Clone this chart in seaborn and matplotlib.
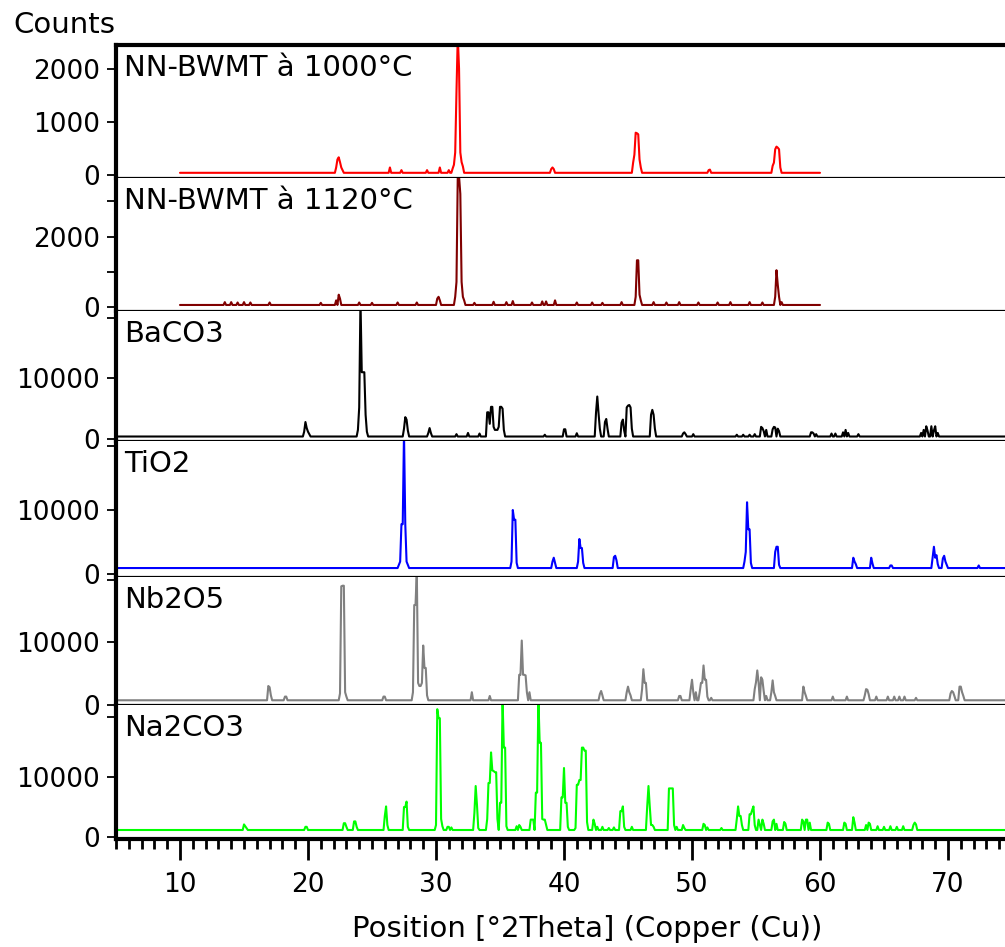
import numpy as np
import pandas as pd
import matplotlib
matplotlib.use("Agg")
import matplotlib.pyplot as plt
from matplotlib.ticker import MultipleLocator
import seaborn as sns

# ---------------- data ----------------
names = ["NN-BWMT à 1000°C", "NN-BWMT à 1120°C", "BaCO3", "TiO2", "Nb2O5", "Na2CO3"]
colors = ["#ff0000", "#800000", "#000000", "#0000ff", "#808080", "#00ff00"]
scan_start = [10.0, 10.0, 5.0, 5.0, 5.0, 5.0]
scan_stop = [60.0, 60.0, 75.0, 75.0, 75.0, 75.0]
baseline = [50, 70, 410, 1000, 710, 1170]

pos_1000 = [22.2, 22.3, 22.4, 22.5, 22.6, 22.7, 26.4, 27.3, 29.3, 30.3, 31.0, 31.3,
            31.4, 31.5, 31.6, 31.7, 31.8, 31.9, 32.0, 32.1, 39.0, 39.1, 39.2,
            45.4, 45.5, 45.6, 45.7, 45.8, 45.9, 46.0, 51.3, 51.4,
            56.3, 56.4, 56.5, 56.6, 56.7, 56.8, 56.9]
cnt_1000 = [150, 300, 340, 250, 150, 100, 150, 100, 100, 150, 100, 130,
            200, 430, 1570, 2600, 2000, 430, 250, 170, 120, 150, 120,
            240, 390, 800, 790, 770, 300, 150, 100, 110,
            180, 240, 490, 540, 520, 490, 150]

pos_1120 = [13.5, 14.0, 14.5, 15.0, 15.5, 17.0, 21.0, 22.2, 22.4, 22.5, 24.0, 25.0,
            27.0, 28.5, 30.1, 30.2, 30.3, 31.5, 31.6, 31.7, 31.8, 31.9, 32.0, 32.1,
            32.2, 33.0, 34.5, 35.5, 36.0, 37.5, 38.3, 38.6, 39.3, 41.0, 42.2, 43.0,
            44.5, 45.6, 45.7, 45.8, 45.9, 46.0, 47.0, 48.0, 49.0, 50.5, 52.0, 53.0,
            54.5, 55.5, 56.5, 56.6, 56.7, 56.8, 57.0]
cnt_1120 = [150, 150, 140, 150, 140, 140, 130, 200, 360, 250, 140, 130,
            140, 140, 250, 300, 200, 300, 720, 3700, 3700, 3200, 720, 300,
            200, 130, 160, 150, 180, 140, 170, 170, 200, 140, 140, 130,
            150, 300, 1330, 1330, 360, 200, 150, 140, 150, 140, 140, 150,
            150, 140, 300, 1050, 640, 300, 150]

pos_baco3 = [19.7, 19.8, 19.9, 20.0, 20.1, 23.9, 24.0, 24.1, 24.2, 24.3, 24.4, 24.5,
             24.6, 27.5, 27.6, 27.7, 27.8, 29.4, 29.5, 29.6, 31.6, 32.5, 33.4,
             34.0, 34.1, 34.2, 34.3, 34.4, 34.5, 34.6, 34.7, 34.8, 34.9, 35.0,
             35.1, 35.2, 35.3, 38.5, 40.0, 40.1, 41.0, 42.5, 42.6, 42.7, 42.8,
             43.2, 43.3, 43.4, 44.5, 44.6, 44.7, 44.9, 45.0, 45.1, 45.2, 45.3,
             46.8, 46.9, 47.0, 47.1, 49.3, 49.4, 49.5, 50.1, 53.5, 54.0, 54.5,
             54.9, 55.4, 55.5, 55.6, 55.8, 56.3, 56.4, 56.5, 56.7, 56.8, 59.3,
             59.4, 59.5, 59.7, 60.9, 61.2, 61.8, 62.0, 62.2, 63.0, 67.9, 68.1,
             68.3, 68.4, 68.7, 68.9, 69.0, 69.2]
cnt_baco3 = [1200, 2800, 1800, 1200, 800, 1500, 5200, 23000, 11000, 11000, 11000, 4000,
             1200, 1700, 3600, 3200, 1400, 1000, 1800, 1000, 800, 1000, 900,
             4400, 4400, 2500, 5300, 5300, 2000, 1500, 1500, 1500, 2000, 5300,
             5300, 5000, 1500, 700, 1600, 1600, 950, 4300, 7000, 4200, 1700,
             2800, 3300, 1700, 2700, 3200, 1400, 5200, 5500, 5600, 5200, 1700,
             4000, 4800, 4000, 1700, 900, 1100, 800, 800, 700, 700, 700,
             800, 2000, 1800, 1300, 1500, 1600, 2000, 1900, 1700, 1300, 1100,
             1100, 900, 800, 900, 900, 1100, 1500, 1000, 800, 1000, 1500,
             2100, 1400, 2100, 1400, 2100, 1000]

pos_tio2 = [27.1, 27.2, 27.3, 27.4, 27.5, 27.6, 27.7, 27.8, 35.9, 36.0, 36.1, 36.2,
            36.3, 39.1, 39.2, 39.3, 41.1, 41.2, 41.3, 41.4, 41.5, 43.9, 44.0, 44.1,
            54.1, 54.2, 54.3, 54.4, 54.5, 54.6, 56.5, 56.6, 56.7, 56.8, 62.6, 62.7,
            62.8, 64.0, 64.1, 65.5, 65.6, 68.8, 68.9, 69.0, 69.1, 69.2, 69.6, 69.7,
            69.8, 69.9, 72.4]
cnt_tio2 = [1500, 2000, 7800, 7800, 22000, 7800, 2000, 1500, 2000, 10000, 8500, 8500,
            1800, 2000, 2600, 1800, 2000, 5500, 4100, 4100, 1800, 2700, 2900, 2200,
            2000, 3500, 11200, 7000, 7000, 1800, 3500, 4300, 4300, 1500, 2600, 2000,
            1600, 2600, 1700, 1400, 1400, 2600, 4300, 2600, 3000, 1600, 2500, 2900,
            2000, 1500, 1400]

pos_nb2o5 = [16.9, 17.0, 17.1, 18.2, 18.3, 22.5, 22.6, 22.7, 22.8, 22.9, 23.0,
             25.9, 26.0, 28.2, 28.3, 28.4, 28.5, 28.6, 28.7, 28.8, 28.9, 29.0,
             29.1, 29.2, 29.3, 32.8, 34.2, 36.5, 36.6, 36.7, 36.8, 36.9, 37.0,
             37.1, 37.3, 42.8, 42.9, 43.0, 44.9, 45.0, 45.1, 45.2, 46.1, 46.2,
             46.3, 46.4, 49.0, 49.1, 49.9, 50.0, 50.1, 50.3, 50.6, 50.7, 50.8,
             50.9, 51.0, 51.1, 51.2, 51.5, 54.9, 55.0, 55.1, 55.2, 55.4, 55.5,
             55.6, 55.8, 56.2, 56.3, 56.4, 56.5, 58.7, 58.8, 58.9, 61.0, 62.1,
             63.5, 63.6, 63.7, 63.8, 64.4, 65.3, 65.8, 66.2, 66.6, 67.5, 70.2,
             70.3, 70.4, 70.5, 70.9, 71.0, 71.1, 71.2]
cnt_nb2o5 = [3000, 2800, 1500, 1300, 1300, 1800, 19000, 19100, 19100, 2000, 1300,
             1300, 1300, 2000, 16000, 16000, 21500, 3500, 3000, 3000, 3500, 9500,
             5900, 5900, 1500, 2000, 1400, 4800, 4800, 10300, 4800, 4800, 4700,
             2000, 2000, 1700, 2200, 1500, 2000, 2900, 2000, 1500, 2500, 5700,
             3500, 3500, 1400, 1400, 2500, 4000, 2000, 2000, 2000, 3500, 3500,
             6300, 4000, 4000, 1300, 1100, 2500, 3600, 5500, 3600, 4400, 4000,
             2200, 1400, 2000, 3900, 2000, 1400, 2900, 2000, 1400, 1300, 1300,
             1500, 2500, 2400, 1700, 1300, 1300, 1300, 1300, 1300, 1100, 1800,
             2200, 2000, 1400, 2900, 2900, 2000, 1400]

pos_na2co3 = [15.0, 15.1, 15.2, 19.8, 19.9, 22.8, 22.9, 23.0, 23.6, 23.7, 23.8,
              26.0, 26.1, 26.2, 27.5, 27.6, 27.7, 27.8, 30.0, 30.1, 30.2, 30.3,
              30.4, 30.5, 30.9, 31.0, 31.2, 33.0, 33.1, 33.2, 33.3, 34.0, 34.1,
              34.2, 34.3, 34.4, 34.5, 34.6, 34.7, 34.8, 35.0, 35.1, 35.2, 35.3,
              35.4, 35.5, 36.3, 36.5, 36.6, 37.4, 37.5, 37.6, 37.8, 37.9, 38.0,
              38.1, 38.2, 38.3, 38.4, 38.5, 38.6, 39.8, 39.9, 40.0, 40.1, 40.2,
              40.3, 40.9, 41.0, 41.1, 41.2, 41.3, 41.4, 41.5, 41.6, 41.7, 41.8,
              42.3, 42.4, 42.6, 43.0, 43.5, 43.9, 44.4, 44.5, 44.6, 44.7, 45.3,
              46.5, 46.6, 46.7, 46.8, 46.9, 47.0, 48.2, 48.3, 48.4, 48.5, 48.6,
              48.8, 49.3, 49.4, 50.9, 51.0, 51.2, 52.3, 53.5, 53.6, 53.7, 53.8,
              53.9, 54.5, 54.6, 54.7, 54.8, 54.9, 55.2, 55.3, 55.5, 55.6, 56.3,
              56.4, 56.6, 57.2, 57.3, 58.6, 58.7, 58.9, 59.0, 59.2, 60.6, 60.7,
              61.9, 62.0, 62.6, 62.7, 63.6, 63.8, 63.9, 64.5, 65.0, 65.5, 66.0,
              66.5, 67.3, 67.4, 67.5]
cnt_na2co3 = [2100, 1800, 1500, 1700, 1700, 2300, 2300, 1700, 2600, 2600, 1700,
              3500, 5100, 2000, 5000, 5000, 5900, 1700, 2000, 21300, 19800, 19800,
              3000, 1800, 1700, 1700, 1600, 4000, 8500, 5400, 1500, 3000, 9000,
              9000, 14100, 11100, 11000, 10800, 10800, 3000, 5700, 5700, 23000, 14900,
              14900, 1800, 1800, 2000, 1700, 2900, 2900, 2900, 7400, 7400, 23000,
              15700, 15700, 3000, 2900, 2900, 2000, 6600, 6600, 11500, 5700, 5700,
              1700, 1500, 8700, 8700, 9500, 9500, 14900, 14900, 14400, 14400, 2500,
              2900, 2200, 1700, 1700, 1500, 1600, 4300, 4300, 5100, 1700, 1700,
              5100, 8500, 5100, 2000, 2000, 1700, 8100, 8100, 8100, 8100, 2000,
              1700, 2000, 1500, 2200, 2000, 1600, 1500, 3000, 5100, 3500, 3500,
              2000, 3800, 3800, 4500, 5100, 2000, 2900, 2000, 2900, 2200, 2600,
              2900, 2200, 2500, 2200, 2900, 2600, 2900, 2900, 2400, 2400, 2200,
              2400, 2200, 3300, 2400, 2000, 2400, 2200, 1800, 1700, 1800, 1700,
              1800, 2000, 2400, 2100]

peak_pos = [pos_1000, pos_1120, pos_baco3, pos_tio2, pos_nb2o5, pos_na2co3]
peak_cnt = [cnt_1000, cnt_1120, cnt_baco3, cnt_tio2, cnt_nb2o5, cnt_na2co3]

y_limits = [(-47, 2440), (-100, 3650), (-330, 21090), (-390, 20700), (-50, 20500), (-330, 22000)]
y_major = [[0, 1000, 2000], [0, 2000], [0, 10000], [0, 10000], [0, 10000], [0, 10000]]
y_minor = [[], [1000, 3000], [20000], [20000], [20000], [20000]]
x_ticks = [10, 20, 30, 40, 50, 60, 70]

# ---------------- figure ----------------
sns.set_style("white")
plt.rcParams["font.family"] = ["DejaVu Sans"]
plt.rcParams["text.color"] = "black"
plt.rcParams["xtick.color"] = "black"
plt.rcParams["ytick.color"] = "black"
plt.rcParams["axes.labelcolor"] = "black"

W, H = 1005, 947
fig = plt.figure(figsize=(W / 100, H / 100), dpi=100)
bounds = [45, 178, 311, 441, 577, 705, 839]
left_px = 116

for i in range(6):
    top, bot = bounds[i], bounds[i + 1]
    ax = fig.add_axes([left_px / W, 1 - bot / H, (W - left_px) / W, (bot - top) / H])

    step = 0.1
    x = np.round(np.arange(scan_start[i], scan_stop[i] + 1e-9, step), 1)
    y = np.full(x.shape, float(baseline[i]))
    idx = np.rint((np.array(peak_pos[i]) - scan_start[i]) / step).astype(int)
    y[idx] = peak_cnt[i]
    df = pd.DataFrame({"pos": x, "counts": y})
    sns.lineplot(data=df, x="pos", y="counts", ax=ax, color=colors[i],
                 lw=1.5, estimator=None, sort=False, legend=False)

    ax.set_xlim(5, 5 + (W - left_px) / 12.8)
    ax.set_ylim(*y_limits[i])
    ax.set_xlabel("")
    ax.set_ylabel("")
    ax.set_yticks(y_major[i])
    ax.set_yticklabels([str(v) for v in y_major[i]])
    ax.set_yticks(y_minor[i], minor=True)
    ax.tick_params(axis="y", which="both", direction="out", length=6.5, width=1.3,
                   color="black", labelcolor="black", labelsize=19, pad=5, left=True)
    ax.spines["right"].set_visible(False)
    ax.spines["left"].set_linewidth(3.0)
    ax.spines["left"].set_color("black")
    ax.spines["bottom"].set_color("black")
    ax.spines["top"].set_color("black")
    if i == 0:
        ax.spines["top"].set_linewidth(3.0)
    else:
        ax.spines["top"].set_visible(False)
    if i < 5:
        ax.spines["bottom"].set_linewidth(1.6)
        ax.tick_params(axis="x", which="both", bottom=False, labelbottom=False)
    else:
        ax.spines["bottom"].set_linewidth(3.0)
        ax.set_xticks(x_ticks)
        ax.set_xticklabels([str(v) for v in x_ticks])
        ax.xaxis.set_minor_locator(MultipleLocator(1))
        ax.tick_params(axis="x", which="major", direction="out", length=15, width=2,
                       color="black", labelcolor="black", labelsize=19, pad=9, bottom=True)
        ax.tick_params(axis="x", which="minor", direction="out", length=7, width=2,
                       color="black", bottom=True)
    ax.set_facecolor("white")
    ax.annotate(names[i], xy=(0, 1), xycoords="axes fraction", xytext=(6, -6.5),
                textcoords="offset points", ha="left", va="top", fontsize=21,
                color="black")

fig.text(13 / W, 1 - 33 / H, "Counts", fontsize=21, ha="left", va="baseline", color="black")
fig.text(587 / W, 1 - 937 / H, "Position [°2Theta] (Copper (Cu))", fontsize=21,
         ha="center", va="baseline", color="black")

fig.savefig("out.png", dpi=100, facecolor="white")
